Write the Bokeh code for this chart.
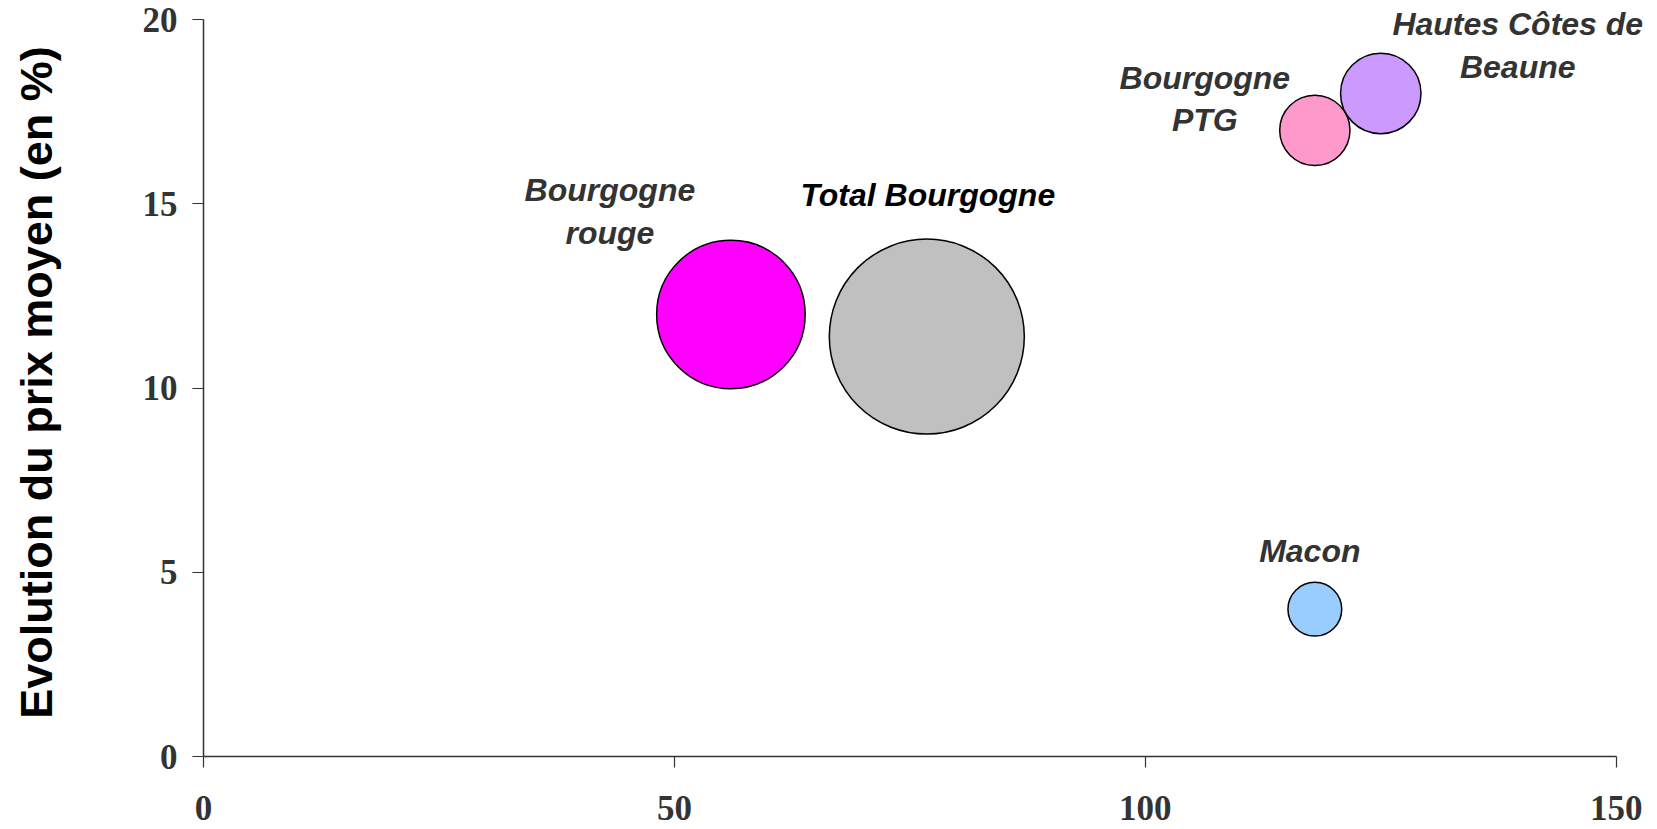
from bokeh.plotting import figure
from bokeh.models import Range1d, ColumnDataSource, FixedTicker
from bokeh.core.properties import value
from bokeh.embed import file_html
from bokeh.resources import INLINE
import math

# ---- data ----
names = ["Bourgogne rouge", "Total Bourgogne", "Bourgogne PTG", "Hautes Côtes de Beaune", "Macon"]
label_text = ["Bourgogne\nrouge", "Total Bourgogne", "Bourgogne\nPTG", "Hautes Côtes de\nBeaune", "Macon"]
x_vals = [56, 76.8, 118, 125, 118]
y_vals = [12, 11.4, 17, 18, 4]
bubble_sizes = [58, 100, 13, 17, 7.6]
colors = ["#FF00FF", "#C0C0C0", "#FF99CC", "#CC99FF", "#99CCFF"]
label_colors = ["#333333", "#000000", "#333333", "#333333", "#333333"]
x_ticks = [0, 50, 100, 150]
y_ticks = [0, 5, 10, 15, 20]
y_title = "Evolution du prix moyen (en %)"

# ---- style / layout ----
label_dx = [-121, 1, -110, 137, -5]
label_dy = [-103, -142, -31, -48, -58]
MAX_DIAM = 195.0

vmax = max(bubble_sizes)
diam = [MAX_DIAM * math.sqrt(v / vmax) for v in bubble_sizes]
order = sorted(range(len(names)), key=lambda i: -bubble_sizes[i])

src = ColumnDataSource(dict(
    x=[x_vals[i] for i in order],
    y=[y_vals[i] for i in order],
    d=[diam[i] for i in order],
    c=[colors[i] for i in order],
))
lab = ColumnDataSource(dict(
    x=x_vals, y=y_vals, t=label_text, dx=label_dx, dy=label_dy, tc=label_colors,
))

p = figure(width=1652, height=826, output_backend="svg", toolbar_location=None,
           x_range=Range1d(0, 153.64), y_range=Range1d(0, 20.307),
           min_border_left=203, min_border_right=2, min_border_top=8, min_border_bottom=70)
p.xgrid.visible = False
p.ygrid.visible = False
p.outline_line_color = None
p.background_fill_color = "white"

p.scatter(x="x", y="y", size="d", fill_color="c", line_color="black", line_width=1.5,
          source=src, marker="circle")
p.text(x="x", y="y", text="t", x_offset="dx", y_offset="dy", source=lab,
       text_font=value("Liberation Sans"), text_font_style="bold italic",
       text_font_size="32px", text_color="tc", text_align="center", text_baseline="middle",
       text_line_height=1.17)

for ax, ticks, b in ((p.xaxis[0], x_ticks, (0, 150)), (p.yaxis[0], y_ticks, (0, 20))):
    ax.ticker = FixedTicker(ticks=ticks)
    ax.bounds = b
    ax.axis_line_color = "#333333"
    ax.axis_line_width = 1.5
    ax.major_tick_line_color = "#333333"
    ax.major_tick_line_width = 1.2
    ax.major_tick_in = 0
    ax.major_tick_out = 11
    ax.minor_tick_line_color = None
    ax.major_label_text_font = "Liberation Serif"
    ax.major_label_text_font_style = "bold"
    ax.major_label_text_font_size = "35px"
    ax.major_label_text_color = "#333333"

p.xaxis[0].major_label_standoff = 28
p.yaxis[0].major_label_standoff = 15
p.yaxis[0].axis_label = y_title
p.yaxis[0].axis_label_text_font = "Liberation Sans"
p.yaxis[0].axis_label_text_font_style = "bold"
p.yaxis[0].axis_label_text_font_size = "45px"
p.yaxis[0].axis_label_text_color = "#000000"
p.yaxis[0].axis_label_standoff = 78

open("out.html", "w").write(file_html(p, INLINE))
